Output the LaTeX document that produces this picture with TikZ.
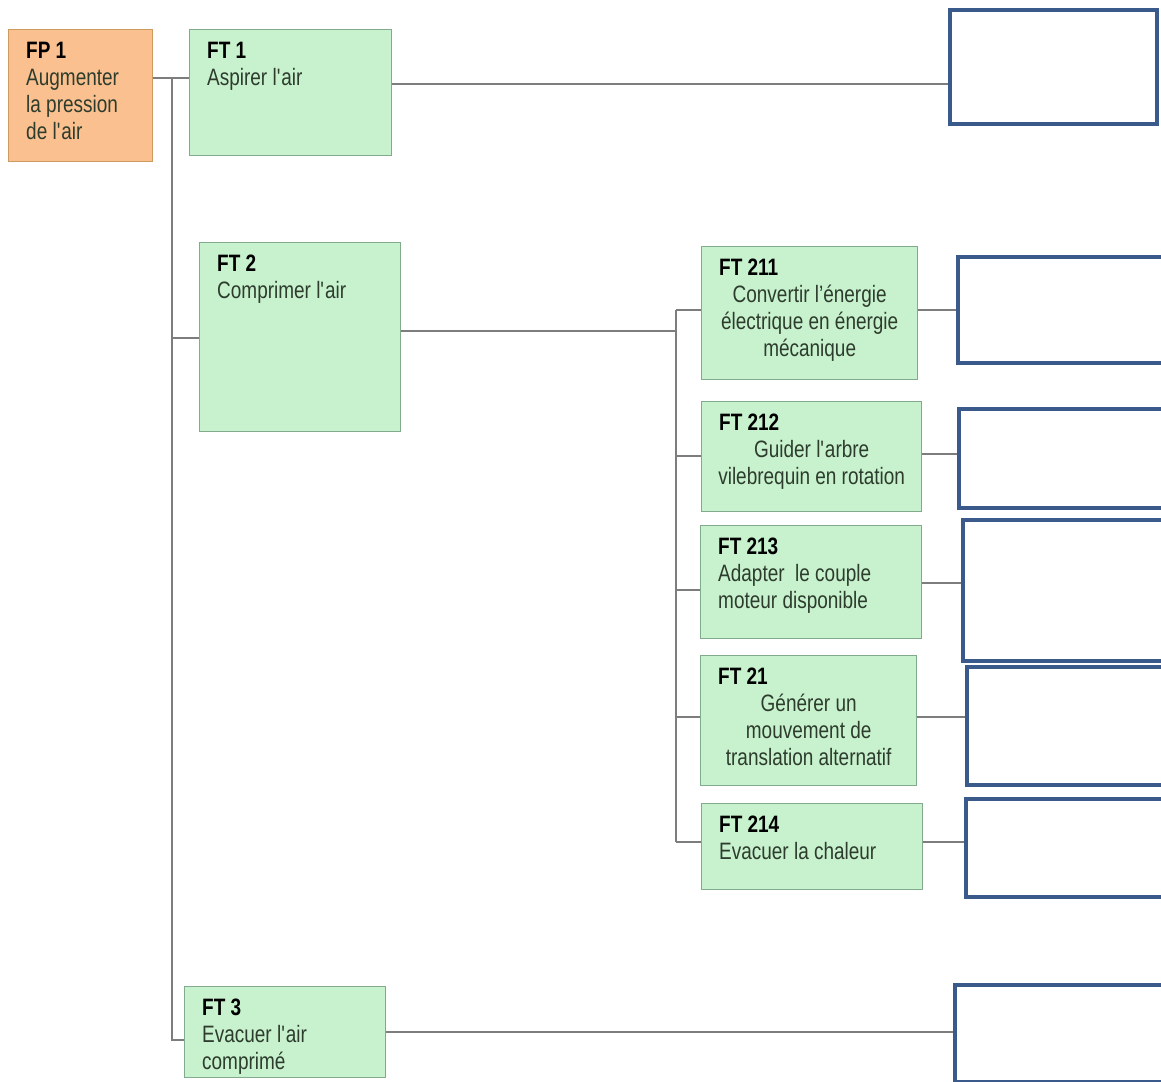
\documentclass[tikz,border=0pt]{standalone}
\usepackage{fontspec}
\setmainfont[FakeStretch=0.8]{Liberation Sans}
\definecolor{fpfill}{RGB}{250,192,143}
\definecolor{fpline}{RGB}{205,155,95}
\definecolor{ftfill}{RGB}{200,242,206}
\definecolor{ftline}{RGB}{130,170,140}
\definecolor{boxblue}{RGB}{58,90,140}
\definecolor{linkgray}{RGB}{125,125,125}
\definecolor{txtgray}{RGB}{45,60,45}
\newcommand{\fbody}[3]{\parbox[t][#2][t]{#1}{\raggedright#3}}
\newcommand{\ctline}[1]{\makebox[\linewidth]{#1}}
\newcommand{\ftitle}[1]{\textbf{\color{black}#1}}
\tikzset{
  fpbox/.style={draw=fpline, fill=fpfill, line width=0.8pt, anchor=north west,
    inner xsep=0.35cm, inner ysep=0.25cm,
    font=\fontsize{13.5}{15.4}\selectfont, text=txtgray},
  ftbox/.style={fpbox, draw=ftline, fill=ftfill},
  emptybox/.style={draw=boxblue, line width=2.3pt, fill=white, anchor=north west, inner sep=0pt},
  link/.style={color=linkgray, line width=1.1pt},
}
\begin{document}
\begin{tikzpicture}[x=0.02cm,y=-0.02cm]
  \useasboundingbox (0,0) rectangle (1161,1082);
  \node[fpbox] (fp1) at (8,29) {\fbody{2.18cm}{2.14cm}{\ftitle{FP 1}\\Augmenter\\la pression\\de l\textquotesingle air}};
  \node[ftbox] (ft1) at (189,29) {\fbody{3.34cm}{2.02cm}{\ftitle{FT 1}\\Aspirer l\textquotesingle air}};
  \node[ftbox] (ft2) at (199,242) {\fbody{3.32cm}{3.28cm}{\ftitle{FT 2}\\Comprimer l\textquotesingle air}};
  \node[ftbox] (ft211) at (701,246) {\fbody{3.62cm}{2.16cm}{\ftitle{FT 211}\\\ctline{Convertir l’énergie}\\\ctline{électrique en énergie}\\\ctline{mécanique}}};
  \node[ftbox] (ft212) at (701,401) {\fbody{3.70cm}{1.70cm}{\ftitle{FT 212}\\\ctline{Guider l\textquotesingle arbre}\\\ctline{vilebrequin en rotation}}};
  \node[ftbox] (ft213) at (700,525) {\fbody{3.72cm}{1.76cm}{\ftitle{FT 213}\\Adapter~~le couple\\moteur disponible}};
  \node[ftbox] (ft21) at (700,655) {\fbody{3.62cm}{2.10cm}{\ftitle{FT 21}\\\ctline{Générer un}\\\ctline{mouvement de}\\\ctline{translation alternatif}}};
  \node[ftbox] (ft214) at (701,803) {\fbody{3.72cm}{1.22cm}{\ftitle{FT 214}\\Evacuer la chaleur}};
  \node[ftbox] (ft3) at (184,986) {\fbody{3.32cm}{1.32cm}{\ftitle{FT 3}\\Evacuer l\textquotesingle air\\comprimé}};
  \node[emptybox, minimum width=4.14cm, minimum height=2.28cm] (b1) at (948,8) {};
  \node[emptybox, minimum width=4.40cm, minimum height=2.12cm] (b2) at (956,255) {};
  \node[emptybox, minimum width=4.40cm, minimum height=1.98cm] (b3) at (957,407) {};
  \node[emptybox, minimum width=4.40cm, minimum height=2.82cm] (b4) at (961,518) {};
  \node[emptybox, minimum width=4.40cm, minimum height=2.36cm] (b5) at (965,665) {};
  \node[emptybox, minimum width=4.40cm, minimum height=1.96cm] (b6) at (964,797) {};
  \node[emptybox, minimum width=4.40cm, minimum height=1.94cm] (b7) at (953,983) {};
  \coordinate (tr1) at (172,78);
  \coordinate (tr3) at (172,1040);
  \coordinate (bus1) at (676,310);
  \coordinate (bus5) at (676,842);
  \begin{scope}[link]
    \draw (fp1.east |- tr1) -- (ft1.west |- tr1);
    \draw (tr1) -- (tr3) -- (ft3.west |- tr3);
    \draw (tr1 |- 0,338) -- (ft2.west |- 0,338);
    \draw (ft1.east |- 0,84) -- (b1.west |- 0,84);
    \draw (ft2.east |- 0,331) -- (bus1 |- 0,331);
    \draw (bus1) -- (bus5);
    \draw (bus1) -- (ft211.west |- bus1);
    \draw (bus1 |- 0,456) -- (ft212.west |- 0,456);
    \draw (bus1 |- 0,590) -- (ft213.west |- 0,590);
    \draw (bus1 |- 0,717) -- (ft21.west |- 0,717);
    \draw (bus5) -- (ft214.west |- bus5);
    \draw (ft211.east |- 0,310) -- (b2.west |- 0,310);
    \draw (ft212.east |- 0,454) -- (b3.west |- 0,454);
    \draw (ft213.east |- 0,583) -- (b4.west |- 0,583);
    \draw (ft21.east |- 0,717) -- (b5.west |- 0,717);
    \draw (ft214.east |- 0,842) -- (b6.west |- 0,842);
    \draw (ft3.east |- 0,1032) -- (b7.west |- 0,1032);
  \end{scope}
\end{tikzpicture}
\end{document}
